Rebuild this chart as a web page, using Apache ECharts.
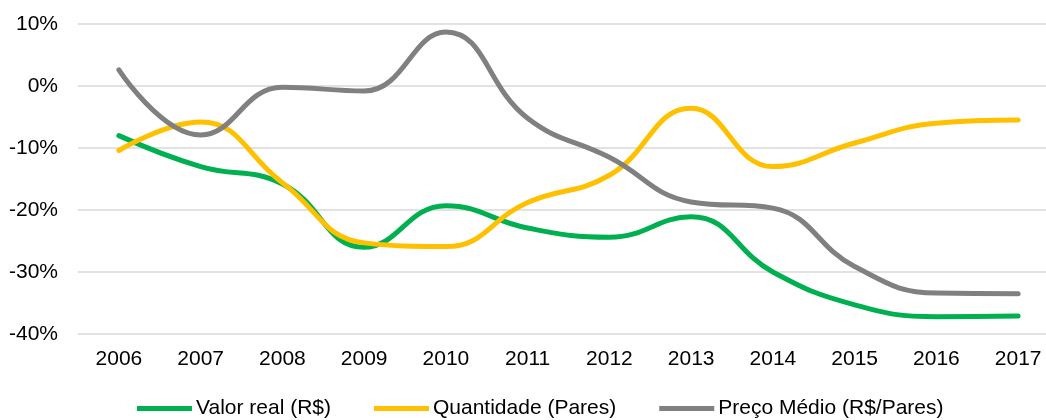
<!DOCTYPE html>
<html>
<head>
<meta charset="utf-8">
<script src="https://cdn.jsdelivr.net/npm/echarts@6/dist/echarts.min.js"></script>
<style>
  html, body { margin: 0; padding: 0; background: #fff; overflow: hidden; }
  /* o grafico original corta a ultima coluna na borda direita */
  #main { width: 1060px; height: 420px; }
</style>
</head>
<body>
<div id="main"></div>
<script>
// anos
const years = ['2006', '2007', '2008', '2009', '2010', '2011', '2012', '2013', '2014', '2015', '2016', '2017'];
// variacao em %
const valorReal = [-8.0, -13.0, -15.8, -26.0, -19.3, -22.9, -24.4, -21.1, -30.0, -35.3, -37.2, -37.1];
const quantidade = [-10.4, -5.8, -15.6, -25.3, -25.9, -18.8, -14.4, -3.6, -13.0, -9.2, -6.0, -5.5];
const precoMedio = [2.6, -7.9, -0.2, -0.8, 8.7, -5.2, -11.5, -18.7, -19.7, -29.1, -33.4, -33.5];

const chart = echarts.init(document.getElementById('main'));

function serie(name, data, color) {
    return {
        name: name,
        type: 'line',
        data: data,
        smooth: 0.45,
        symbol: 'none',
        lineStyle: { color: color, width: 5, cap: 'round' },
        itemStyle: { color: color }
    };
}

chart.setOption({
    animation: false,
    textStyle: { fontFamily: 'Liberation Sans, Arial, sans-serif' },
    grid: { left: 78, top: 24, right: 1, height: 310 },
    legend: {
        top: 393,
        left: 132,
        itemWidth: 55,
        itemHeight: 5,
        itemGap: 43,
        icon: 'rect',
        textStyle: { fontSize: 21, color: '#000', padding: [0, 0, 0, -1] },
        data: ['Valor real (R$)', 'Quantidade (Pares)', 'Preço Médio (R$/Pares)']
    },
    xAxis: {
        type: 'category',
        data: years,
        boundaryGap: true,
        axisLine: { show: false },
        axisTick: { show: false },
        axisLabel: { fontSize: 21, color: '#000', margin: 15 }
    },
    yAxis: {
        type: 'value',
        min: -40,
        max: 10,
        interval: 10,
        axisLine: { show: false },
        axisTick: { show: false },
        axisLabel: { formatter: '{value}%', fontSize: 21, color: '#000', margin: 20 },
        splitLine: { lineStyle: { color: '#d9d9d9', width: 1.5 } }
    },
    series: [
        serie('Valor real (R$)', valorReal, '#00b050'),
        serie('Quantidade (Pares)', quantidade, '#ffc000'),
        serie('Preço Médio (R$/Pares)', precoMedio, '#808080')
    ]
});
</script>
</body>
</html>
